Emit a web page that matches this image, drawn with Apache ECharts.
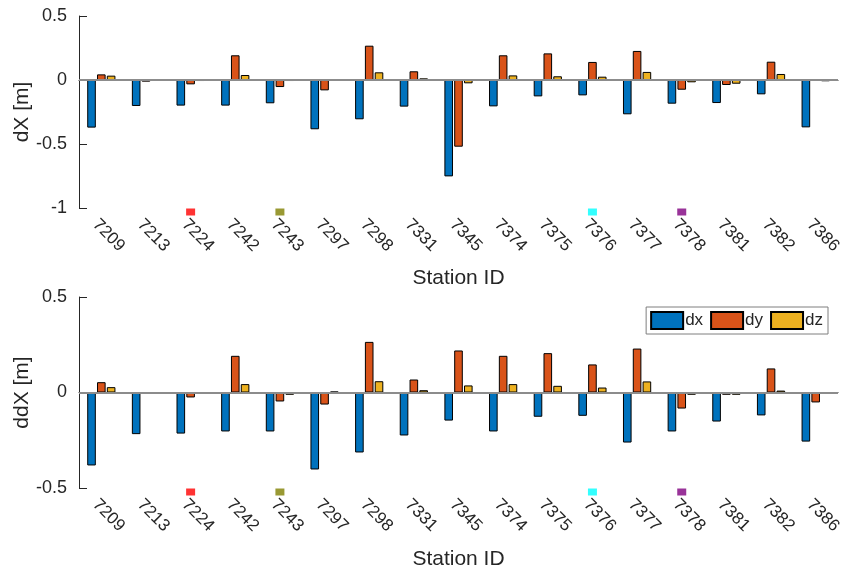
<!DOCTYPE html>
<html>
<head>
<meta charset="utf-8">
<script src="https://cdn.jsdelivr.net/npm/echarts@6/dist/echarts.min.js"></script>
<style>
    html, body { margin: 0; padding: 0; background: #fff; }
    .container { width: 846px; height: 572px; }
</style>
</head>
<body>
<div class="container"></div>
<script>
const stations = ['7209', '7213', '7224', '7242', '7243', '7297', '7298', '7331', '7345',
    '7374', '7375', '7376', '7377', '7378', '7381', '7382', '7386'];

// upper panel: dX [m]
const dxTop = [-0.372, -0.203, -0.200, -0.200, -0.182, -0.385, -0.307, -0.208, -0.753,
    -0.206, -0.128, -0.120, -0.268, -0.185, -0.180, -0.112, -0.370];
const dyTop = [0.044, -0.013, -0.034, 0.193, -0.055, -0.081, 0.268, 0.068, -0.521,
    0.193, 0.208, 0.141, 0.227, -0.076, -0.039, 0.143, -0.003];
const dzTop = [0.034, -0.003, -0.008, 0.039, -0.008, -0.003, 0.060, 0.013, -0.026,
    0.036, 0.029, 0.026, 0.063, -0.018, -0.029, 0.047, -0.010];

// lower panel: ddX [m]
const dxBot = [-0.382, -0.218, -0.215, -0.204, -0.204, -0.403, -0.314, -0.225, -0.147,
    -0.204, -0.127, -0.122, -0.262, -0.204, -0.152, -0.120, -0.257];
const dyBot = [0.054, -0.005, -0.026, 0.192, -0.047, -0.063, 0.265, 0.068, 0.220,
    0.192, 0.206, 0.147, 0.230, -0.084, -0.012, 0.126, -0.052];
const dzBot = [0.028, -0.003, -0.007, 0.044, -0.012, 0.005, 0.059, 0.012, 0.037,
    0.044, 0.035, 0.026, 0.058, -0.012, -0.012, 0.010, -0.005];

const yTicksTop = [-1, -0.5, 0, 0.5];
const yTicksBot = [-0.5, 0, 0.5];

// stations flagged with a coloured square under the axis
const markedStations = ['7224', '7243', '7376', '7378'];

(function () {
    let myChart = echarts.init(document.querySelector('.container'));

    const font = "'Liberation Sans', Arial, Helvetica, sans-serif";
    const ink = '#262626';
    const seriesColors = ['#0072BD', '#D95319', '#EDB120'];
    const markColors = { '7224': '#FF0000', '7243': '#808000', '7376': '#00FFFF', '7378': '#800080' };

    function xAxisFor(idx, gap) {
        return {
            type: 'category',
            gridIndex: idx,
            data: stations,
            boundaryGap: true,
            name: 'Station ID',
            nameLocation: 'middle',
            nameGap: gap,
            nameTextStyle: { color: ink, fontSize: 21, fontFamily: font },
            axisLine: { lineStyle: { color: ink, width: 1 } },
            axisTick: { alignWithLabel: true, inside: true, length: 8, lineStyle: { color: ink } },
            axisLabel: {
                rotate: -45, color: ink, fontSize: 17, fontFamily: font,
                margin: 8, interval: 0, verticalAlign: 'top'
            },
            splitLine: { show: false }
        };
    }

    function yAxisFor(idx, ticks, name) {
        return {
            type: 'value',
            gridIndex: idx,
            min: ticks[0],
            max: ticks[ticks.length - 1],
            interval: 0.5,
            name: name,
            nameLocation: 'middle',
            nameGap: 46,
            nameMoveOverlap: false,
            nameTextStyle: { color: ink, fontSize: 21, fontFamily: font },
            axisLine: { show: true, lineStyle: { color: ink, width: 1 } },
            axisTick: { show: true, inside: true, length: 8, lineStyle: { color: ink } },
            axisLabel: { color: ink, fontSize: 18, fontFamily: font, margin: 12 },
            splitLine: { show: false }
        };
    }

    function bars(name, data, idx, color) {
        return {
            name: name,
            type: 'bar',
            xAxisIndex: idx,
            yAxisIndex: idx,
            data: data,
            barWidth: 8.6,
            barGap: '14%',
            itemStyle: { color: color, borderColor: '#000', borderWidth: 1 },
            emphasis: { disabled: true }
        };
    }

    // grey zero baseline like the one matlab draws under bar plots
    function baseline(idx) {
        return {
            type: 'line',
            xAxisIndex: idx,
            yAxisIndex: idx,
            data: [],
            markLine: {
                silent: true,
                symbol: 'none',
                label: { show: false },
                lineStyle: { color: '#8c8c8c', width: 2, type: 'solid' },
                data: [{ yAxis: 0 }]
            }
        };
    }

    function markers(idx, yMin) {
        return {
            type: 'scatter',
            xAxisIndex: idx,
            yAxisIndex: idx,
            symbol: 'rect',
            symbolSize: [9, 7],
            symbolOffset: [0, 4],
            clip: false,
            z: 5,
            data: markedStations.map(s => ({
                value: [s, yMin],
                itemStyle: { color: markColors[s] }
            }))
        };
    }

    const option = {
        animation: false,
        textStyle: { fontFamily: font },
        color: seriesColors,
        grid: [
            { left: 79, right: 8, top: 16, height: 192, outerBoundsMode: 'none', containLabel: false },
            { left: 79, right: 8, top: 297, height: 191, outerBoundsMode: 'none', containLabel: false }
        ],
        legend: {
            data: ['dx', 'dy', 'dz'],
            icon: 'rect',
            right: 18,
            top: 307,
            itemWidth: 32,
            itemHeight: 17,
            itemGap: 7,
            padding: [4, 5, 4, 4],
            borderColor: '#7f7f7f',
            borderWidth: 1,
            backgroundColor: '#fff',
            textStyle: { color: ink, fontSize: 17, fontFamily: font, padding: [0, 0, 0, -3] }
        },
        xAxis: [xAxisFor(0, 60), xAxisFor(1, 61)],
        yAxis: [yAxisFor(0, yTicksTop, 'dX [m]'), yAxisFor(1, yTicksBot, 'ddX [m]')],
        series: [
            baseline(0),
            baseline(1),
            bars('dx', dxTop, 0, seriesColors[0]),
            bars('dy', dyTop, 0, seriesColors[1]),
            bars('dz', dzTop, 0, seriesColors[2]),
            bars('dx', dxBot, 1, seriesColors[0]),
            bars('dy', dyBot, 1, seriesColors[1]),
            bars('dz', dzBot, 1, seriesColors[2]),
            markers(0, yTicksTop[0]),
            markers(1, yTicksBot[0])
        ]
    };

    myChart.setOption(option);
})();
</script>
</body>
</html>
